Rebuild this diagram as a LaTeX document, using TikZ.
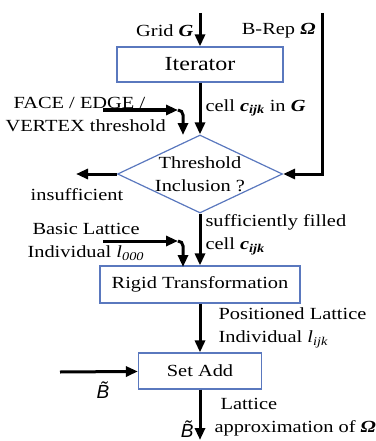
\documentclass[tikz,border=0pt]{standalone}
\usepackage{fontspec}
\setmainfont{Liberation Serif}[FakeStretch=1.2]
\newfontfamily\labelsans{Liberation Sans}
\usetikzlibrary{arrows.meta,shapes.geometric,positioning}
\definecolor{boxblue}{RGB}{90,120,190}
\newcommand{\btilde}{{\labelsans\itshape\~{B}}}

\begin{document}
\begin{tikzpicture}[x=1pt,y=-1pt,>={Triangle[length=12pt,width=10pt]},
  every node/.style={font=\fontsize{17}{23}\selectfont},
  block/.style={draw=boxblue,line width=1.2pt,rectangle,minimum height=35pt,inner sep=0pt},
  test/.style={draw=boxblue,line width=1.2pt,diamond,aspect=2.1,inner sep=0pt,minimum width=165pt,minimum height=78pt,align=center},
  flow/.style={->,line width=3pt}]

\useasboundingbox (0,0) rectangle (375,441);

% blocks
\node[block,minimum width=166pt,font=\fontsize{20}{24}\selectfont] (iter) at (200,64.5) {Iterator};
\node[test] (thr) at (200,174) {Threshold\\Inclusion ?};
\node[block,minimum width=200pt,minimum height=37pt] (rigid) at (200,284.5) {Rigid Transformation};
\node[block,minimum width=123pt,minimum height=36pt] (setadd) at (200,371) {Set Add};

% free ends
\coordinate (gridin) at (200,13);
\coordinate (brepin) at (322,13);
\coordinate (facein) at (103,110);
\coordinate (faceknee) at (178,110);
\coordinate (faceend) at (183,135);
\coordinate (insuff) at (76,174);
\coordinate (lattin) at (103,241);
\coordinate (lattknee) at (178,241);
\coordinate (lattend) at (183,267);
\coordinate (bin) at (60,372);
\coordinate (bout) at (200,440);

\draw[flow] (gridin) -- (iter.north);
\draw[flow] (brepin) |- (thr.east);
\draw[flow] (iter) -- (thr);
\draw[flow] (facein) -- (faceknee);
\draw[flow,rounded corners=5pt] (faceknee) -| (faceend);
\draw[flow] (thr) -- (insuff);
\draw[flow] (thr) -- (rigid);
\draw[flow] (lattin) -- (lattknee);
\draw[flow,rounded corners=5pt] (lattknee) -| (lattend);
\draw[flow] (rigid) -- (setadd);
\draw[flow] (bin) -- (setadd);
\draw[flow] (setadd) -- (bout);

% labels
\node[anchor=east] (gridlbl) at (197,31) {Grid \textbf{\textit{G}}};
\node[anchor=east] (breplbl) at (319,31) {B-Rep \textbf{\textit{Ω}}};
\node[anchor=west] (celllbl) at (202,108) {cell \textbf{\textit{c}}\textsubscript{\textbf{\textit{ijk}}} in \textbf{\textit{G}}};
\node[anchor=west,align=left] (facelbl) at (2,114) {\hspace{8pt}FACE / EDGE /\\VERTEX threshold};
\node (insufflbl) at (77,195) {insufficient};
\node[anchor=west,align=left] (filledlbl) at (202,235) {sufficiently filled\\cell \textbf{\textit{c}}\textsubscript{\textbf{\textit{ijk}}}};
\node[anchor=west,align=left] (basiclbl) at (24,242) {\hspace{5pt}Basic Lattice\\Individual \textit{l}\textsubscript{\textit{000}}};
\node[anchor=west,align=left] (poslbl) at (215,328) {Positioned Lattice\\Individual \textit{l}\textsubscript{\textit{ijk}}};
\node[font=\fontsize{19}{23}\selectfont] (binlbl) at (103,390) {\btilde};
\node[anchor=east,font=\fontsize{19}{23}\selectfont] (boutlbl) at (197,429) {\btilde};
\node[anchor=west,align=left] (approxlbl) at (211,417) {\hspace{6pt}Lattice\\approximation of \textbf{\textit{Ω}}};

\end{tikzpicture}
\end{document}
